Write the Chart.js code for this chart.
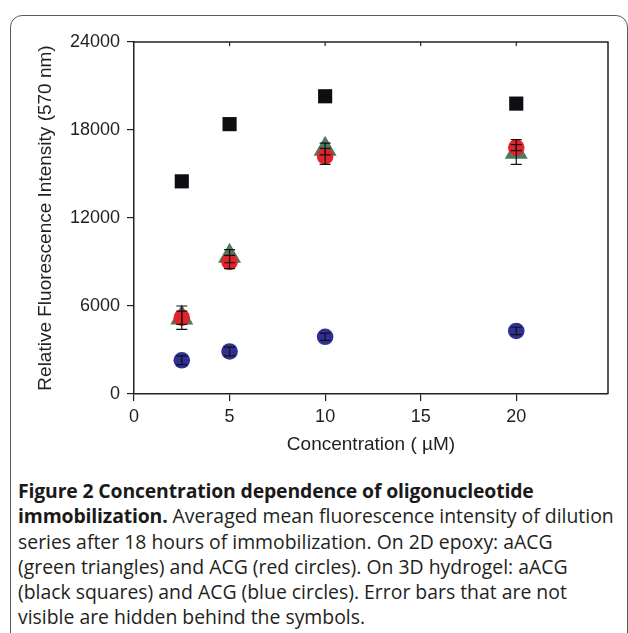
<!DOCTYPE html>
<html>
<head>
<meta charset="utf-8">
<script src="https://cdn.jsdelivr.net/npm/chart.js@4/dist/chart.umd.min.js"></script>
<style>
  html, body { margin: 0; padding: 0; background: #fff; width: 628px; height: 633px; overflow: hidden; }
  #panel { position: absolute; left: 10px; top: 15px; width: 618px; height: 700px; border: 1.5px solid #5a5a5a; border-radius: 12px; box-sizing: border-box; }
  #wrap { position: absolute; left: 0; top: 0; width: 628px; height: 470px; }
  #caption { position: absolute; left: 18px; top: 478px; font-family: 'Open Sans', sans-serif; font-size: 19.4px; line-height: 25.3px; color: #231f20; white-space: nowrap; }
  #caption b { font-weight: 700; color: #1a1a1a; letter-spacing: -0.15px; }
</style>
</head>
<body>
<div id="panel"></div>
<div id="wrap"><canvas id="c" width="628" height="470"></canvas></div>
<div id="caption"><b>Figure 2 Concentration dependence of oligonucleotide<br>immobilization.</b> Averaged mean fluorescence intensity of dilution<br>series after 18 hours of immobilization. On 2D epoxy: aACG<br>(green triangles) and ACG (red circles). On 3D hydrogel: aACG<br>(black squares) and ACG (blue circles). Error bars that are not<br>visible are hidden behind the symbols.</div>
<script>
// ---- data ----
const concentrations = [2.5, 5, 10, 20];
const epoxyAACG = [5200, 9400, 16700, 16500];     // green triangles
const epoxyAACGErr = [800, 450, 400, 850];
const epoxyACG = [5200, 9000, 16200, 16800];      // red circles
const epoxyACGErr = [450, 450, 550, 200];
const hydrogelAACG = [14500, 18400, 20300, 19800]; // black squares
const hydrogelAACGErr = [150, 150, 150, 150];
const hydrogelACG = [2300, 2900, 3900, 4300];      // blue circles
const hydrogelACGErr = [300, 300, 250, 250];
const xTicks = [0, 5, 10, 15, 20];
const yTicks = [0, 6000, 12000, 18000, 24000];
const xTitle = 'Concentration ( \u00b5M)';
const yTitle = 'Relative Fluorescence Intensity (570 nm)';

function pts(ys) { return concentrations.map((x, i) => ({x: x, y: ys[i]})); }

const errorBars = {
  id: 'errorBars',
  afterDatasetsDraw(chart) {
    const ctx = chart.ctx;
    const xs = chart.scales.x, ys = chart.scales.y;
    ctx.save();
    ctx.strokeStyle = '#111';
    ctx.lineWidth = 1.2;
    chart.data.datasets.forEach(ds => {
      if (!ds.errors) return;
      ds.data.forEach((p, i) => {
        const e = ds.errors[i];
        const px = xs.getPixelForValue(p.x);
        const y1 = ys.getPixelForValue(p.y + e);
        const y2 = ys.getPixelForValue(p.y - e);
        ctx.beginPath();
        ctx.moveTo(px, y1); ctx.lineTo(px, y2);
        ctx.moveTo(px - 5.5, y1); ctx.lineTo(px + 5.5, y1);
        ctx.moveTo(px - 5.5, y2); ctx.lineTo(px + 5.5, y2);
        ctx.stroke();
      });
    });
    ctx.restore();
  }
};

const frame = {
  id: 'frame',
  afterDraw(chart) {
    const {ctx, chartArea: a} = chart;
    const xs = chart.scales.x;
    ctx.save();
    ctx.strokeStyle = '#231f20';
    ctx.lineWidth = 1.5;
    ctx.beginPath();
    ctx.moveTo(a.left, a.top); ctx.lineTo(a.right, a.top); ctx.lineTo(a.right, a.bottom);
    ctx.stroke();
    ctx.lineWidth = 1.2;
    ctx.beginPath();
    xTicks.forEach(v => {
      if (v === 0) return;
      const px = xs.getPixelForValue(v);
      ctx.moveTo(px, a.top); ctx.lineTo(px, a.top + 4);
    });
    ctx.stroke();
    ctx.restore();
  }
};

const tickFont = {family: "'Liberation Sans', Arial, sans-serif", size: 18};
const titleFont = {family: "'Liberation Sans', Arial, sans-serif", size: 19};

new Chart(document.getElementById('c'), {
  type: 'scatter',
  data: {
    datasets: [
      {label: 'epoxy ACG', data: pts(epoxyACG), errors: epoxyACGErr, order: 1,
       pointStyle: 'circle', pointRadius: 8.3, backgroundColor: '#e3232b', borderColor: '#e3232b', borderWidth: 0},
      {label: 'epoxy aACG', data: pts(epoxyAACG), errors: epoxyAACGErr, order: 2,
       pointStyle: 'triangle', pointRadius: 13.3, backgroundColor: '#4f7a5c', borderColor: '#4f7a5c', borderWidth: 0},
      {label: 'hydrogel aACG', data: pts(hydrogelAACG), errors: hydrogelAACGErr, order: 3,
       pointStyle: 'rect', pointRadius: 10, backgroundColor: '#0c0e11', borderColor: '#0c0e11', borderWidth: 0},
      {label: 'hydrogel ACG', data: pts(hydrogelACG), errors: hydrogelACGErr, order: 4,
       pointStyle: 'circle', pointRadius: 8.3, backgroundColor: '#2e3192', borderColor: '#2e3192', borderWidth: 0}
    ]
  },
  options: {
    responsive: false,
    animation: false,
    devicePixelRatio: 1,
    layout: {padding: {left: 0, top: 42, right: 20, bottom: 0}},
    plugins: {legend: {display: false}, tooltip: {enabled: false}},
    elements: {point: {hoverRadius: 0}},
    scales: {
      x: {
        type: 'linear', min: 0, max: 24.8,
        afterBuildTicks: s => { s.ticks = xTicks.map(v => ({value: v})); },
        afterFit: s => { s.height = 76; },
        grid: {drawOnChartArea: false, drawTicks: true, tickLength: 7, color: '#231f20', lineWidth: 1.2},
        border: {display: true, color: '#231f20', width: 1.5},
        ticks: {color: '#231f20', font: tickFont, padding: 5, maxRotation: 0},
        title: {display: true, text: xTitle, color: '#231f20', font: titleFont, padding: {top: 0, bottom: 14}}
      },
      y: {
        type: 'linear', min: 0, max: 24000,
        afterBuildTicks: s => { s.ticks = yTicks.map(v => ({value: v})); },
        afterFit: s => { s.width = 134; },
        grid: {drawOnChartArea: false, drawTicks: true, tickLength: 7, color: '#231f20', lineWidth: 1.2},
        border: {display: true, color: '#231f20', width: 1.5},
        ticks: {color: '#231f20', font: tickFont, padding: 7, callback: v => String(v)},
        title: {display: true, text: yTitle, color: '#231f20', font: titleFont, padding: {top: 34, bottom: 0}}
      }
    }
  },
  plugins: [errorBars, frame]
});
</script>
</body>
</html>
